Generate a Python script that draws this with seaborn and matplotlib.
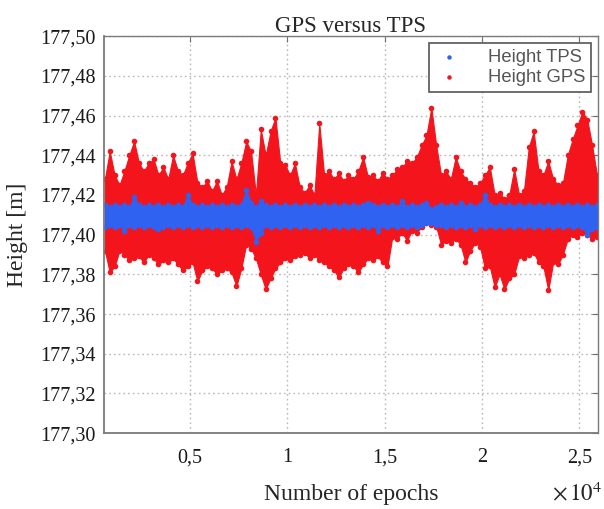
import pandas as pd
import seaborn as sns
import matplotlib.pyplot as plt
from matplotlib.ticker import FixedLocator, FuncFormatter

sns.set_style("white")
plt.rcParams["font.family"] = ["Liberation Serif", "DejaVu Serif"]
plt.rcParams["mathtext.fontset"] = "stix"

# ------------------------------------------------------------------------------------------------ #
# envelopes, one sample every 250 epochs
epochs = list(range(650, 26150, 250))

gps_upper = [
    177.428, 177.442, 177.430, 177.425, 177.432, 177.440, 177.447, 177.436, 177.432, 177.436,
    177.438, 177.430, 177.434, 177.428, 177.440, 177.432, 177.430, 177.436, 177.441, 177.426,
    177.424, 177.427, 177.422, 177.427, 177.420, 177.424, 177.437, 177.428, 177.436, 177.447,
    177.442, 177.420, 177.453, 177.440, 177.452, 177.459, 177.436, 177.435, 177.430, 177.436,
    177.424, 177.421, 177.425, 177.420, 177.456, 177.430, 177.432, 177.428, 177.431, 177.427,
    177.430, 177.428, 177.432, 177.439, 177.429, 177.430, 177.427, 177.431, 177.428, 177.430,
    177.433, 177.434, 177.437, 177.436, 177.439, 177.445, 177.450, 177.464, 177.445, 177.430,
    177.432, 177.428, 177.439, 177.432, 177.428, 177.426, 177.424, 177.426, 177.430, 177.434,
    177.420, 177.421, 177.418, 177.420, 177.433, 177.420, 177.422, 177.444, 177.452, 177.432,
    177.430, 177.437, 177.428, 177.425, 177.426, 177.440, 177.448, 177.455, 177.462, 177.458,
    177.445, 177.430,
]
gps_lower = [
    177.392, 177.381, 177.384, 177.392, 177.390, 177.387, 177.388, 177.389, 177.386, 177.390,
    177.388, 177.385, 177.387, 177.386, 177.388, 177.385, 177.382, 177.384, 177.386, 177.3765,
    177.382, 177.384, 177.383, 177.380, 177.382, 177.383, 177.381, 177.374, 177.383, 177.395,
    177.393, 177.388, 177.380, 177.3725, 177.378, 177.383, 177.386, 177.388, 177.387, 177.389,
    177.390, 177.391, 177.388, 177.390, 177.387, 177.386, 177.384, 177.382, 177.3785, 177.383,
    177.385, 177.384, 177.381, 177.385, 177.388, 177.387, 177.389, 177.386, 177.384, 177.399,
    177.398, 177.401, 177.397, 177.402, 177.401, 177.404, 177.406, 177.405, 177.404, 177.395,
    177.397, 177.396, 177.398, 177.395, 177.386, 177.392, 177.396, 177.394, 177.383, 177.384,
    177.3735, 177.380, 177.3725, 177.378, 177.380, 177.389, 177.388, 177.390, 177.391, 177.386,
    177.384, 177.372, 177.386, 177.385, 177.390, 177.398, 177.400, 177.399, 177.401, 177.400,
    177.398, 177.399,
]
tps_upper = [
    177.415, 177.414, 177.415, 177.414, 177.415, 177.414, 177.419, 177.415, 177.414, 177.415,
    177.414, 177.415, 177.414, 177.415, 177.414, 177.415, 177.414, 177.420, 177.415, 177.414,
    177.415, 177.414, 177.415, 177.414, 177.415, 177.414, 177.415, 177.414, 177.415, 177.4225,
    177.416, 177.414, 177.417, 177.415, 177.414, 177.415, 177.414, 177.415, 177.414, 177.415,
    177.414, 177.415, 177.414, 177.415, 177.414, 177.415, 177.414, 177.415, 177.414, 177.415,
    177.414, 177.415, 177.414, 177.415, 177.416, 177.415, 177.414, 177.415, 177.414, 177.415,
    177.414, 177.417, 177.414, 177.415, 177.414, 177.415, 177.416, 177.413, 177.414, 177.415,
    177.414, 177.415, 177.414, 177.416, 177.414, 177.415, 177.414, 177.415, 177.420, 177.415,
    177.414, 177.415, 177.414, 177.415, 177.414, 177.415, 177.414, 177.415, 177.414, 177.415,
    177.414, 177.415, 177.414, 177.415, 177.414, 177.415, 177.414, 177.415, 177.414, 177.415,
    177.414, 177.415,
]
tps_lower = [
    177.404, 177.405, 177.404, 177.405, 177.402, 177.405, 177.404, 177.405, 177.404, 177.405,
    177.404, 177.403, 177.404, 177.405, 177.404, 177.405, 177.404, 177.405, 177.404, 177.405,
    177.404, 177.405, 177.404, 177.405, 177.404, 177.405, 177.404, 177.405, 177.404, 177.405,
    177.404, 177.3965, 177.401, 177.405, 177.404, 177.405, 177.404, 177.405, 177.404, 177.405,
    177.404, 177.405, 177.404, 177.405, 177.404, 177.405, 177.404, 177.405, 177.404, 177.405,
    177.404, 177.405, 177.404, 177.405, 177.404, 177.405, 177.402, 177.405, 177.404, 177.405,
    177.404, 177.405, 177.404, 177.405, 177.404, 177.405, 177.406, 177.406, 177.405, 177.405,
    177.404, 177.405, 177.404, 177.405, 177.404, 177.405, 177.403, 177.405, 177.404, 177.405,
    177.404, 177.405, 177.404, 177.405, 177.404, 177.405, 177.404, 177.405, 177.404, 177.405,
    177.404, 177.405, 177.404, 177.405, 177.404, 177.405, 177.404, 177.405, 177.404, 177.400,
    177.403, 177.404,
]
x_ticks = [5000, 10000, 15000, 20000, 25000]
y_ticks = [177.30, 177.32, 177.34, 177.36, 177.38, 177.40, 177.42, 177.44, 177.46, 177.48, 177.50]
# ------------------------------------------------------------------------------------------------ #

RED = "#f4141c"
BLUE = "#2f62f0"


def edges(upper, lower, name):
    return pd.DataFrame(
        {
            "epoch": epochs + epochs,
            "height": upper + lower,
            "series": [name] * (2 * len(epochs)),
        }
    )


gps = edges(gps_upper, gps_lower, "Height GPS")
tps = edges(tps_upper, tps_lower, "Height TPS")

fig = plt.figure(figsize=(6.04, 5.09), dpi=100)
ax = fig.add_axes([0.172, 0.149, 0.818, 0.78])

ax.fill_between(epochs, gps_lower, gps_upper, color=RED, lw=0.8, edgecolor=RED)
sns.scatterplot(data=gps, x="epoch", y="height", color=RED, s=16, linewidth=0, ax=ax,
                label="Height GPS")
ax.fill_between(epochs, tps_lower, tps_upper, color=BLUE, lw=0.8, edgecolor=BLUE)
sns.scatterplot(data=tps, x="epoch", y="height", color=BLUE, s=16, linewidth=0, ax=ax,
                label="Height TPS")

ax.set_xlim(600, 25950)
ax.set_ylim(177.30, 177.50)
ax.xaxis.set_major_locator(FixedLocator(x_ticks))
ax.yaxis.set_major_locator(FixedLocator(y_ticks))
ax.xaxis.set_major_formatter(
    FuncFormatter(lambda v, p: ("%g" % (v / 1e4)).replace(".", ","))
)
ax.yaxis.set_major_formatter(FuncFormatter(lambda v, p: ("%.2f" % v).replace(".", ",")))
ax.tick_params(axis="both", labelsize=14.5, direction="in", length=4, color="#707070",
               top=True, right=True, colors="#1a1a1a")
ax.tick_params(axis="x", pad=11)
ax.tick_params(axis="y", pad=6)

ax.grid(True, linestyle=(0, (1.2, 2.2)), color="#b8b8b8", linewidth=1.0)
ax.set_axisbelow(True)
for side, sp in ax.spines.items():
    sp.set_color("#7a7a7a")
    sp.set_linewidth(1.3 if side in ("left", "bottom") else 1.0)

ax.set_title("GPS versus TPS", fontsize=16.5, pad=3)
ax.set_xlabel("Number of epochs", fontsize=17, labelpad=12)
ax.set_ylabel("Height [m]", fontsize=17)
ax.yaxis.set_label_coords(-0.153, 0.5)
fig.text(0.997, 0.008, r"$\times\,10^{4}$", fontsize=16.5, ha="right", va="bottom")

handles, labels = ax.get_legend_handles_labels()
order = [labels.index("Height TPS"), labels.index("Height GPS")]
leg = ax.legend(
    [handles[i] for i in order], [labels[i] for i in order],
    loc="upper right", frameon=True, fancybox=False, framealpha=1,
    edgecolor="#555555", borderaxespad=0.35, handlelength=1.4, handletextpad=1.4,
    borderpad=0.35, labelspacing=0.15, markerscale=0.8,
    prop={"family": ["Liberation Sans", "DejaVu Sans"], "size": 13.3},
)
leg.get_frame().set_linewidth(1.2)
for t in leg.get_texts():
    t.set_color("#555555")

fig.savefig("out.png", dpi=100)
